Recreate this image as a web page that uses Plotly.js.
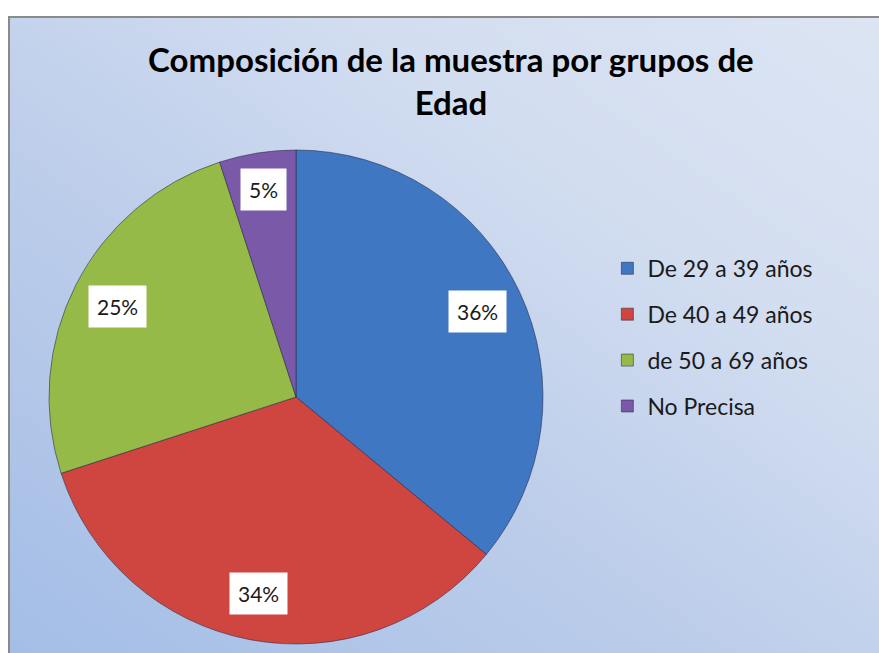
<!DOCTYPE html>
<html>
<head>
<meta charset="utf-8">
<script src="https://cdn.plot.ly/plotly-3.0.1.min.js"></script>
<style>
html,body{margin:0;padding:0;background:#ffffff;width:879px;height:653px;overflow:hidden;}
#bg{position:absolute;left:8px;top:16px;width:880px;height:650px;border-left:2px solid #8a8a8a;border-top:2px solid #8a8a8a;
background:linear-gradient(35deg,#a3bde6 0%,#bccdea 40%,#d2ddf0 70%,#dde5f3 100%);}
#chart{position:absolute;left:0;top:0;width:879px;height:653px;}
</style>
</head>
<body>
<div id="bg"></div>
<div id="chart"></div>
<script>
const categories = ["De 29 a 39 años", "De 40 a 49 años", "de 50 a 69 años", "No Precisa"];
const values = [36, 34, 25, 5];
const colors = ["#3f77c2", "#cf4540", "#96ba48", "#7b59a9"];

const W = 879, H = 653;
const cxPx = 296, cyPx = 397, rPx = 247;
const domX = [(cxPx - rPx) / W, (cxPx + rPx) / W];
const domY = [1 - (cyPx + rPx) / H, 1 - (cyPx - rPx) / H];
const FONT = "Lato, 'Open Sans', sans-serif";

const total = values.reduce((a, b) => a + b, 0);
let cum = 0;
const annotations = values.map((v, i) => {
  const mid = (cum + v / 2) / total;
  cum += v;
  const ang = mid * 2 * Math.PI;
  const rr = rPx * (i === 3 ? 0.85 : 0.81);
  const px = cxPx + rr * Math.sin(ang);
  const py = cyPx - rr * Math.cos(ang);
  return {
    x: px / W, y: 1 - py / H, xref: "paper", yref: "paper",
    xanchor: "center", yanchor: "middle",
    text: Math.round(v / total * 100) + "%", showarrow: false,
    bgcolor: "#ffffff", borderpad: 8,
    font: {family: FONT, size: 21, color: "#1a1a1a"}
  };
});

const pie = {
  type: "pie",
  labels: categories,
  values: values,
  sort: false,
  direction: "clockwise",
  rotation: 0,
  marker: {colors: colors, line: {color: "rgba(40,40,70,0.55)", width: 1}},
  textinfo: "none",
  hoverinfo: "label+percent",
  showlegend: false,
  domain: {x: domX, y: domY}
};

const legendTraces = categories.map((c, i) => ({
  type: "scatter", mode: "markers",
  x: [null], y: [null],
  name: c, legendgroup: "g" + i,
  marker: {symbol: "square", size: 12, color: colors[i], line: {color: "rgba(30,30,60,0.5)", width: 1}},
  hoverinfo: "skip"
}));

const layout = {
  width: W, height: H,
  margin: {l: 0, r: 0, t: 0, b: 0},
  paper_bgcolor: "rgba(0,0,0,0)",
  plot_bgcolor: "rgba(0,0,0,0)",
  xaxis: {visible: false}, yaxis: {visible: false},
  title: {
    text: "<b>Composición de la muestra por grupos de<br>Edad</b>",
    x: 0.513, xanchor: "center", y: 0.89, yanchor: "top",
    font: {family: FONT, size: 33, color: "#000000"}
  },
  showlegend: true,
  legend: {
    x: 0.691, y: 0.622, xanchor: "left", yanchor: "top",
    bgcolor: "rgba(0,0,0,0)",
    font: {family: FONT, size: 23, color: "#1a1a1a"},
    tracegroupgap: 13, itemwidth: 30,
    traceorder: "grouped"
  },
  annotations: annotations
};

Plotly.newPlot("chart", [pie].concat(legendTraces), layout, {displayModeBar: false, staticPlot: true});
</script>
</body>
</html>
